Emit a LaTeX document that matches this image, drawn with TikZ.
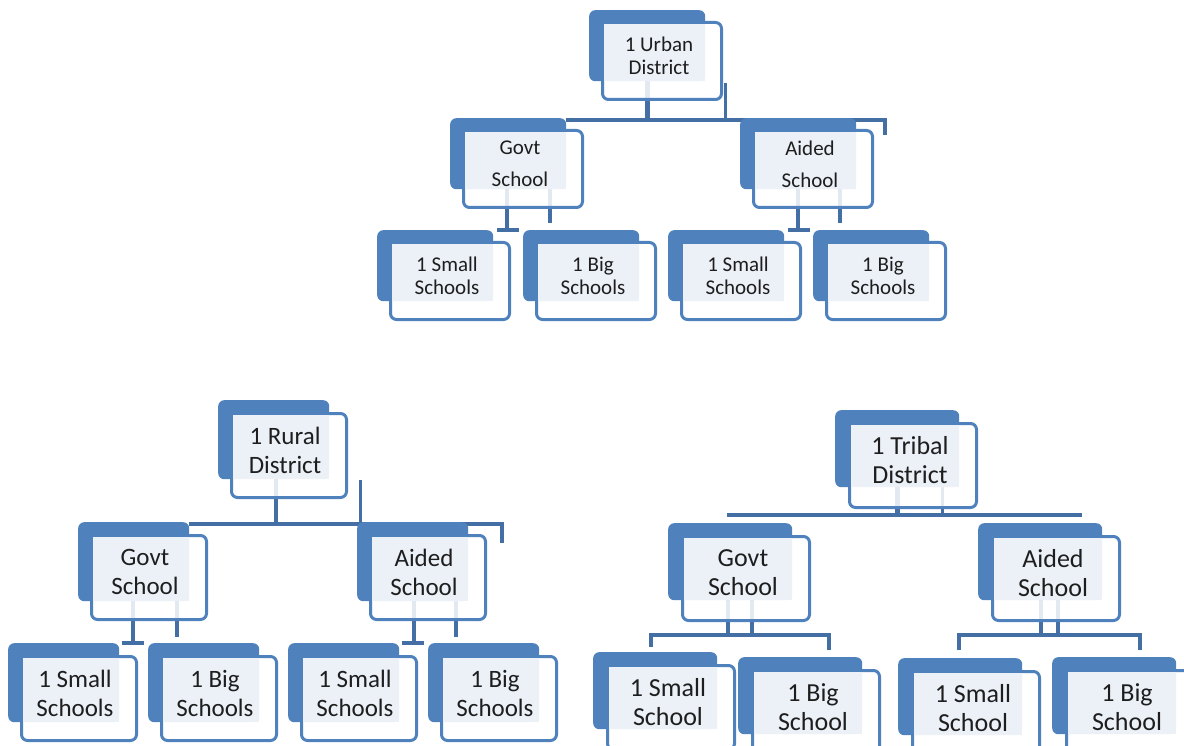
\documentclass[tikz,border=0pt]{standalone}
\usepackage{fontspec}
\setmainfont{Carlito}
\usetikzlibrary{backgrounds}

\definecolor{boxblue}{HTML}{4F81BD}
\definecolor{linkblue}{HTML}{446FA5}
\definecolor{paleblue}{HTML}{ECF1F8}
\definecolor{inktext}{HTML}{1E1E1E}

\newcommand{\urbanfont}{\fontsize{21}{23}\selectfont}
\newcommand{\ruralfont}{\fontsize{25}{29}\selectfont}
\newcommand{\tribalfont}{\fontsize{26}{29}\selectfont}

% one chart box: blue back plate, white front plate, pale text field
\newcommand{\orgbox}[4]{%
  \node (#2B) [#1 back] at #3 {};
  \node (#2F) [#1 front] at (#2B.north west) {};
  \fill[paleblue] ([shift={(3,3)}]#2F.north west) rectangle (#2B.south east);
  \node (#2) [#1 text] at (#2B.north west) {#4};
}

\tikzset{
  backbox/.style={rectangle, fill=boxblue, rounded corners=6pt, anchor=north west, inner sep=0pt},
  frontbox/.style={rectangle, draw=boxblue, line width=3pt, fill=white, fill opacity=0.85, rounded corners=6pt, anchor=north west, inner sep=0pt},
  boxtext/.style={align=center, inner sep=0pt, text=inktext},
  u back/.style={backbox, minimum width=116pt, minimum height=71pt},
  u front/.style={frontbox, minimum width=119pt, minimum height=77pt, shift={(12,11)}},
  u text/.style={boxtext, font=\urbanfont, shift={(70,46)}},
  r back/.style={backbox, minimum width=111pt, minimum height=79pt},
  r front/.style={frontbox, minimum width=115pt, minimum height=84pt, shift={(12,12)}},
  r text/.style={boxtext, font=\ruralfont, shift={(67,50)}},
  t back/.style={backbox, minimum width=124pt, minimum height=77pt},
  t front/.style={frontbox, minimum width=127pt, minimum height=84pt, shift={(13,12)}},
  t text/.style={boxtext, font=\tribalfont, shift={(75,50)}},
  link/.style={draw=linkblue, line width=4pt},
  trunk/.style={draw=linkblue, line width=5pt},
  thinlink/.style={draw=linkblue, line width=3pt},
}

\begin{document}
\begin{tikzpicture}[x=1pt, y=-1pt]
\useasboundingbox (0,0) rectangle (1184,746);
\clip (0,0) rectangle (1184,746);

% urban district
\orgbox{u}{ud}{(589,10)}{1 Urban\\District}
\orgbox{u}{ug}{(450,118)}{Govt\\[9pt]School}
\orgbox{u}{ua}{(740,118)}{Aided\\[9pt]School}
\orgbox{u}{ugs}{(377,230)}{1 Small\\Schools}
\orgbox{u}{ugb}{(523,230)}{1 Big\\Schools}
\orgbox{u}{uas}{(668,230)}{1 Small\\Schools}
\orgbox{u}{uab}{(813,230)}{1 Big\\Schools}

% rural district
\orgbox{r}{rd}{(218,400)}{1 Rural\\District}
\orgbox{r}{rg}{(78,522)}{Govt\\School}
\orgbox{r}{ra}{(357,522)}{Aided\\School}
\orgbox{r}{rgs}{(8,643)}{1 Small\\Schools}
\orgbox{r}{rgb}{(148,643)}{1 Big\\Schools}
\orgbox{r}{ras}{(288,643)}{1 Small\\Schools}
\orgbox{r}{rab}{(428,643)}{1 Big\\Schools}

% tribal district
\orgbox{t}{td}{(835,410)}{1 Tribal\\District}
\orgbox{t}{tg}{(668,523)}{Govt\\School}
\orgbox{t}{ta}{(978,523)}{Aided\\School}
\orgbox{t}{tgs}{(593,652)}{1 Small\\School}
\orgbox{t}{tgb}{(738,657)}{1 Big\\School}
\orgbox{t}{tas}{(898,658)}{1 Small\\School}
\orgbox{t}{tab}{(1052,657)}{1 Big\\School}

\begin{scope}[on background layer]
% urban links
\coordinate (uJ) at (647,120);
\coordinate (uR) at (885,135);
\coordinate (uX) at (725,83);
\draw[trunk] (udB.south -| uJ) -- (uJ);
\draw[link] (ugB.north east |- uJ) -- (uR |- uJ) -- (uR);
\draw[thinlink] (uX) -- (uX |- uJ);
\coordinate (ugJ) at (507,230);
\coordinate (ugK) at (550,223);
\draw[link] (ugB.south -| ugJ) -- (ugJ) ++(-10,0) -- ++(22,0);
\draw[link] (ugB.south -| ugK) -- (ugK);
\coordinate (uaJ) at (798,230);
\coordinate (uaK) at (840,223);
\draw[link] (uaB.south -| uaJ) -- (uaJ) ++(-10,0) -- ++(22,0);
\draw[link] (uaB.south -| uaK) -- (uaK);

% rural links
\coordinate (rJ) at (276,524);
\coordinate (rR) at (502,543);
\coordinate (rX) at (360,480);
\draw[link] (rdB.south -| rJ) -- (rJ);
\draw[link] (rgB.north east |- rJ) -- (rR |- rJ) -- (rR);
\draw[thinlink] (rX) -- (rX |- rJ);
\coordinate (rgJ) at (133,643);
\coordinate (rgK) at (177,637);
\draw[link] (rgB.south -| rgJ) -- (rgJ) ++(-11,0) -- ++(22,0);
\draw[link] (rgB.south -| rgK) -- (rgK);
\coordinate (raJ) at (414,643);
\coordinate (raK) at (456,637);
\draw[link] (raB.south -| raJ) -- (raJ) ++(-12,0) -- ++(22,0);
\draw[link] (raB.south -| raK) -- (raK);

% tribal links
\coordinate (tJ) at (897,515);
\coordinate (tK) at (942,515);
\coordinate (tL) at (727,515);
\coordinate (tR) at (1082,515);
\draw[trunk] (tdB.south -| tJ) -- (tJ);
\draw[thinlink] (tdB.south -| tK) -- (tK);
\draw[link] (tL) -- (tR);
\coordinate (tgJ) at (728,635);
\coordinate (tgK) at (752,635);
\coordinate (tgL) at (651,647);
\coordinate (tgR) at (829,650);
\draw[link] (tgB.south -| tgJ) -- (tgJ);
\draw[link] (tgB.south -| tgK) -- (tgK);
\draw[link] (tgL) |- (tgJ) -| (tgR);
\coordinate (taJ) at (1041,635);
\coordinate (taK) at (1058,635);
\coordinate (taL) at (959,650);
\coordinate (taR) at (1140,650);
\draw[link] (taB.south -| taJ) -- (taJ);
\draw[link] (taB.south -| taK) -- (taK);
\draw[link] (taL) |- (taJ) -| (taR);
\end{scope}
\end{tikzpicture}
\end{document}
